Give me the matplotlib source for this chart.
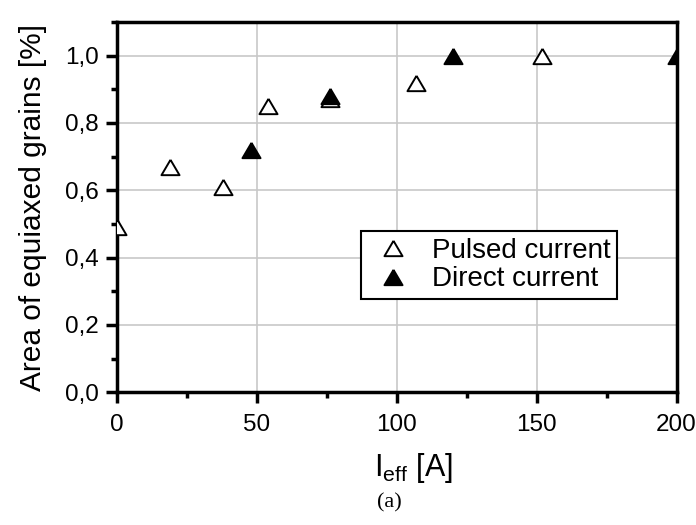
import matplotlib.pyplot as plt
from matplotlib.ticker import MultipleLocator, FuncFormatter

# Data
pulsed_x = [0, 19, 38, 54, 76, 107, 152]
pulsed_y = [0.49, 0.67, 0.61, 0.85, 0.87, 0.92, 1.0]
direct_x = [48, 76, 120, 200]
direct_y = [0.72, 0.88, 1.0, 1.0]

plt.rcParams['font.family'] = ['Liberation Sans', 'DejaVu Sans']
plt.rcParams['mathtext.fontset'] = 'custom'
plt.rcParams['mathtext.rm'] = 'Liberation Sans'

# slightly flattened triangle, like the original markers
tri = [(0, 0.85), (-1, -0.85), (1, -0.85), (0, 0.85)]

fig = plt.figure(figsize=(6.96, 5.25), dpi=100)
ax = fig.add_axes([0.168, 0.253, 0.804, 0.705])

ax.plot(pulsed_x, pulsed_y, linestyle='none', marker=tri, ms=13,
        markerfacecolor='white', markeredgecolor='black', mew=1.4,
        label='Pulsed current', zorder=3)
ax.plot(direct_x, direct_y, linestyle='none', marker=tri, ms=13,
        color='black', mew=1.4, label='Direct current', zorder=3)

ax.set_xlim(0, 200)
ax.set_ylim(0, 1.1)
ax.xaxis.set_major_locator(MultipleLocator(50))
ax.xaxis.set_minor_locator(MultipleLocator(25))
ax.yaxis.set_major_locator(MultipleLocator(0.2))
ax.yaxis.set_minor_locator(MultipleLocator(0.1))
ax.yaxis.set_major_formatter(FuncFormatter(lambda v, p: ('%.1f' % v).replace('.', ',')))

ax.grid(True, which='major', color='#c8c8c8', linewidth=1.2)
ax.set_axisbelow(True)
for s in ax.spines.values():
    s.set_linewidth(2.5)
ax.tick_params(which='major', direction='out', length=8, width=2.5, labelsize=17.5, pad=5)
ax.tick_params(axis='x', which='major', pad=8)
ax.tick_params(which='minor', direction='out', length=4, width=2.5)

ax.set_xlabel(r'$\mathregular{I_{eff}}$ [A]', fontsize=22)
ax.xaxis.set_label_coords(0.53, -0.16)
ax.set_ylabel('Area of equiaxed grains [%]', fontsize=21.5)
ax.yaxis.set_label_coords(-0.125, 0.5)

leg = ax.legend(loc='upper left', bbox_to_anchor=(0.436, 0.435), fontsize=20,
                frameon=True, fancybox=False, edgecolor='black', framealpha=1,
                handletextpad=0.5, borderpad=0.25, labelspacing=0.08,
                borderaxespad=0, handlelength=1.8)
leg.get_frame().set_linewidth(1.5)

fig.text(0.56, 0.042, '(a)', fontsize=16, family='Liberation Serif',
         ha='center', va='center')

plt.savefig('out.png', dpi=100)
